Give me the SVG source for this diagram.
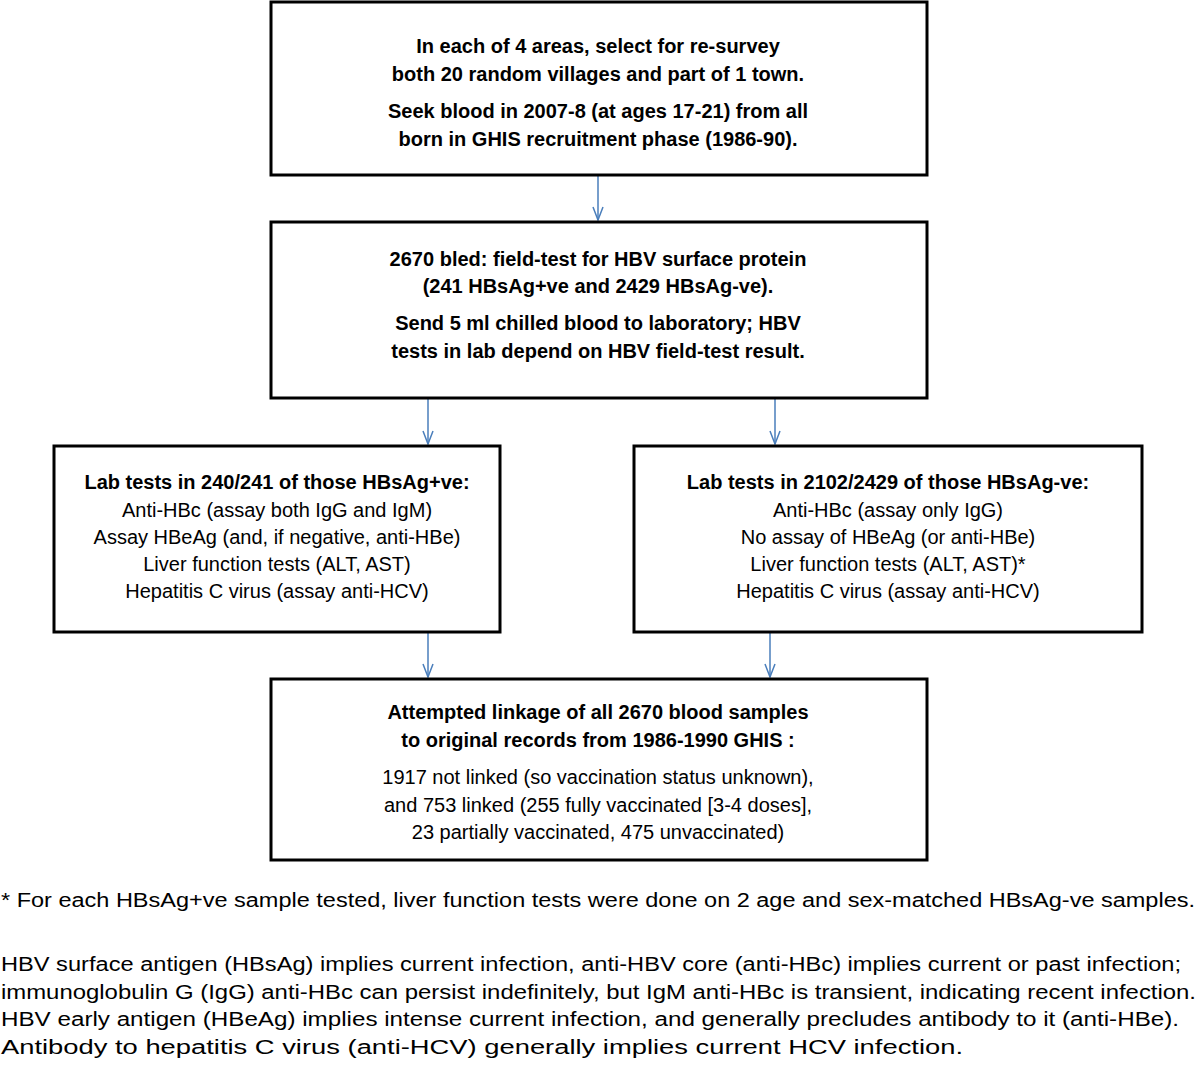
<svg xmlns="http://www.w3.org/2000/svg" width="1200" height="1068" viewBox="0 0 1200 1068">
<defs>
<style>
.box{fill:#fff;stroke:#000;stroke-width:3}
text{font-family:"Liberation Sans",Arial,sans-serif;font-size:20px;fill:#000}
.b{font-weight:bold}
.c{text-anchor:middle}
.ar{stroke:#4a7ebb;stroke-width:1.5;fill:none}
</style>
<marker id="ah" markerWidth="16" markerHeight="12" refX="14" refY="6" orient="auto" markerUnits="userSpaceOnUse">
<path d="M1,1 L14,6 L1,11" fill="none" stroke="#4a7ebb" stroke-width="1.5"/>
</marker>
</defs>
<g id="connectors">
<line class="ar" x1="598" y1="176" x2="598" y2="220" marker-end="url(#ah)"/>
<line class="ar" x1="428" y1="399" x2="428" y2="444" marker-end="url(#ah)"/>
<line class="ar" x1="775" y1="399" x2="775" y2="444" marker-end="url(#ah)"/>
<line class="ar" x1="428" y1="633" x2="428" y2="677" marker-end="url(#ah)"/>
<line class="ar" x1="770" y1="633" x2="770" y2="677" marker-end="url(#ah)"/>
</g>
<g id="n1">
<rect class="box" x="271" y="2" width="656" height="173"/>
<text class="b c" x="598" y="53">In each of 4 areas, select for re-survey</text>
<text class="b c" x="598" y="81">both 20 random villages and part of 1 town.</text>
<text class="b c" x="598" y="118">Seek blood in 2007-8 (at ages 17-21) from all</text>
<text class="b c" x="598" y="146">born in GHIS recruitment phase (1986-90).</text>
</g>
<g id="n2">
<rect class="box" x="271" y="222" width="656" height="176"/>
<text class="b c" x="598" y="266">2670 bled: field-test for HBV surface protein</text>
<text class="b c" x="598" y="293">(241 HBsAg+ve and 2429 HBsAg-ve).</text>
<text class="b c" x="598" y="330">Send 5 ml chilled blood to laboratory; HBV</text>
<text class="b c" x="598" y="358">tests in lab depend on HBV field-test result.</text>
</g>
<g id="n3">
<rect class="box" x="54" y="446" width="446" height="186"/>
<text class="b c" x="277" y="489">Lab tests in 240/241 of those HBsAg+ve:</text>
<text class="c" x="277" y="517">Anti-HBc (assay both IgG and IgM)</text>
<text class="c" x="277" y="544">Assay HBeAg (and, if negative, anti-HBe)</text>
<text class="c" x="277" y="571">Liver function tests (ALT, AST)</text>
<text class="c" x="277" y="598">Hepatitis C virus (assay anti-HCV)</text>
</g>
<g id="n4">
<rect class="box" x="634" y="446" width="508" height="186"/>
<text class="b c" x="888" y="489">Lab tests in 2102/2429 of those HBsAg-ve:</text>
<text class="c" x="888" y="517">Anti-HBc (assay only IgG)</text>
<text class="c" x="888" y="544">No assay of HBeAg (or anti-HBe)</text>
<text class="c" x="888" y="571">Liver function tests (ALT, AST)*</text>
<text class="c" x="888" y="598">Hepatitis C virus (assay anti-HCV)</text>
</g>
<g id="n5">
<rect class="box" x="271" y="679" width="656" height="181"/>
<text class="b c" x="598" y="719">Attempted linkage of all 2670 blood samples</text>
<text class="b c" x="598" y="747">to original records from 1986-1990 GHIS :</text>
<text class="c" x="598" y="784">1917 not linked (so vaccination status unknown),</text>
<text class="c" x="598" y="812">and 753 linked (255 fully vaccinated [3-4 doses],</text>
<text class="c" x="598" y="839">23 partially vaccinated,  475 unvaccinated)</text>
</g>
<g id="notes">
<text x="1" y="907" textLength="1194" lengthAdjust="spacingAndGlyphs">* For each HBsAg+ve sample tested, liver function tests were done on 2 age and sex-matched  HBsAg-ve samples.</text>
<text x="1" y="971" textLength="1180" lengthAdjust="spacingAndGlyphs">HBV surface antigen (HBsAg) implies current infection, anti-HBV core (anti-HBc) implies current or past infection;</text>
<text x="1" y="999" textLength="1195" lengthAdjust="spacingAndGlyphs">immunoglobulin G (IgG) anti-HBc can persist indefinitely, but IgM anti-HBc is transient, indicating recent infection.</text>
<text x="1" y="1026" textLength="1178" lengthAdjust="spacingAndGlyphs">HBV early antigen (HBeAg) implies intense current infection, and  generally precludes antibody to it (anti-HBe).</text>
<text x="1" y="1054" textLength="962" lengthAdjust="spacingAndGlyphs">Antibody to hepatitis C virus (anti-HCV) generally implies current HCV infection.</text>
</g>
</svg>
